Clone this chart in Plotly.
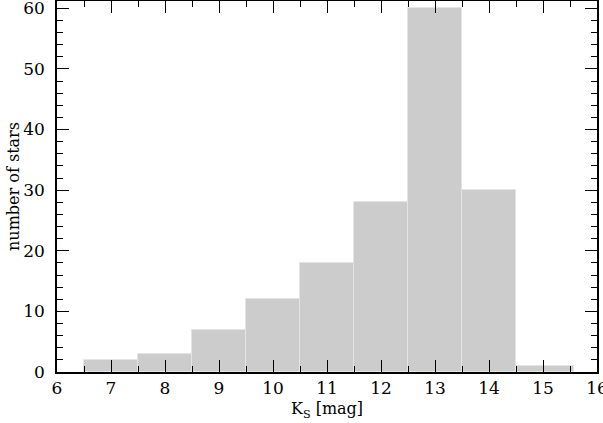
import plotly.graph_objects as go

bin_left = [6.5, 7.5, 8.5, 9.5, 10.5, 11.5, 12.5, 13.5, 14.5]
bin_right = [7.5, 8.5, 9.5, 10.5, 11.5, 12.5, 13.5, 14.5, 15.57]
counts = [2, 3, 7, 12, 18, 28, 60, 30, 1]

centers = [(a + b) / 2 for a, b in zip(bin_left, bin_right)]
widths = [b - a for a, b in zip(bin_left, bin_right)]

FONT = "DejaVu Serif"

fig = go.Figure()
fig.add_trace(go.Bar(
    x=centers, y=counts, width=widths,
    marker=dict(color="#cccccc", line=dict(color="#e4e4e4", width=1)),
    showlegend=False, hoverinfo="skip",
))

axis_common = dict(
    showgrid=False, zeroline=False, showline=True, linecolor="black", linewidth=1.5,
    mirror="ticks", ticks="inside", tickcolor="black", tickwidth=1,
    tickfont=dict(family=FONT, size=17, color="black"),
    automargin=False, ticklabeloverflow="allow",
)

fig.update_layout(
    width=603, height=423,
    margin=dict(l=57, r=6, t=1, b=51),
    plot_bgcolor="white", paper_bgcolor="white",
    bargap=0,
    xaxis=dict(range=[6, 16], dtick=1, tick0=6, ticklen=12,
               minor=dict(dtick=0.5, ticklen=6, ticks="inside", tickcolor="black"),
               title=dict(text="K<sub>S</sub> [mag]", font=dict(family=FONT, size=16, color="black"), standoff=6),
               **axis_common),
    yaxis=dict(range=[0, 61.2], dtick=10, tick0=0, ticklen=12, ticklabelstandoff=7,
               minor=dict(dtick=2, ticklen=6, ticks="inside", tickcolor="black"),
               title=dict(text="number of stars", font=dict(family=FONT, size=16, color="black"), standoff=0),
               **axis_common),
)

fig.write_html("out.html", config={"displayModeBar": False},
               post_script="document.body.style.margin='0';")
